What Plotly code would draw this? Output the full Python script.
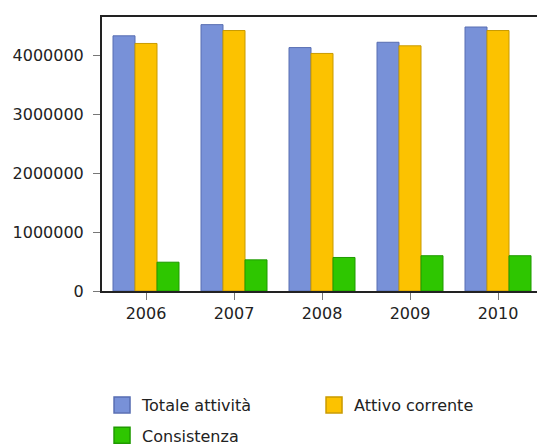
import plotly.graph_objects as go

years = ["2006", "2007", "2008", "2009", "2010"]
totale_attivita = [4340000, 4530000, 4140000, 4230000, 4490000]
attivo_corrente = [4210000, 4430000, 4040000, 4170000, 4430000]
consistenza = [490000, 530000, 570000, 600000, 600000]

series = [
    ("Totale attività", totale_attivita, "#7891d8", "#586eb2", "legend"),
    ("Attivo corrente", attivo_corrente, "#fcc200", "#c99a00", "legend"),
    ("Consistenza", consistenza, "#2ec600", "#1f9a00", "legend2"),
]

fig = go.Figure()
for name, vals, fill, edge, lg in series:
    fig.add_trace(go.Bar(
        x=years, y=vals, name=name, showlegend=False,
        marker=dict(color=fill, line=dict(color=edge, width=1)),
    ))
for name, vals, fill, edge, lg in series:
    fig.add_trace(go.Scatter(
        x=[None], y=[None], mode="markers", name=name, legend=lg,
        marker=dict(symbol="square", size=16, color=fill, line=dict(color=edge, width=1.5)),
    ))

font = dict(family="DejaVu Sans", size=16, color="#222222")
fig.update_layout(
    width=537, height=447,
    margin=dict(l=102, r=0, t=17, b=156),
    paper_bgcolor="white", plot_bgcolor="white",
    barmode="group", bargap=0.25, bargroupgap=0,
    font=font,
    xaxis=dict(
        type="category", range=[-0.5, 4.443],
        showline=True, linecolor="#222222", linewidth=2, mirror=True,
        ticks="outside", ticklen=7, tickcolor="#777777", tickwidth=1,
        showgrid=False, tickfont=font, automargin=False,
    ),
    yaxis=dict(
        range=[0, 4660000], tickvals=[0, 1000000, 2000000, 3000000, 4000000],
        ticktext=["0", "1000000", "2000000", "3000000", "4000000"],
        showline=True, linecolor="#222222", linewidth=2,
        ticks="outside", ticklen=7, tickcolor="#777777", tickwidth=1,
        showgrid=False, zeroline=False, tickfont=font, ticklabelstandoff=6,
        automargin=False,
    ),
    legend=dict(
        orientation="h", x=0.19, xref="container", y=0.094, yref="container",
        xanchor="left", yanchor="middle",
        entrywidth=167, entrywidthmode="pixels",
        font=font, bgcolor="rgba(0,0,0,0)", itemclick=False,
        indentation=0,
    ),
    legend2=dict(
        orientation="h", x=0.19, xref="container", y=0.026, yref="container",
        xanchor="left", yanchor="middle",
        font=font, bgcolor="rgba(0,0,0,0)", itemclick=False,
    ),
)
fig.write_html("out.html", post_script="document.body.style.margin='0';",
               config={"displayModeBar": False})
